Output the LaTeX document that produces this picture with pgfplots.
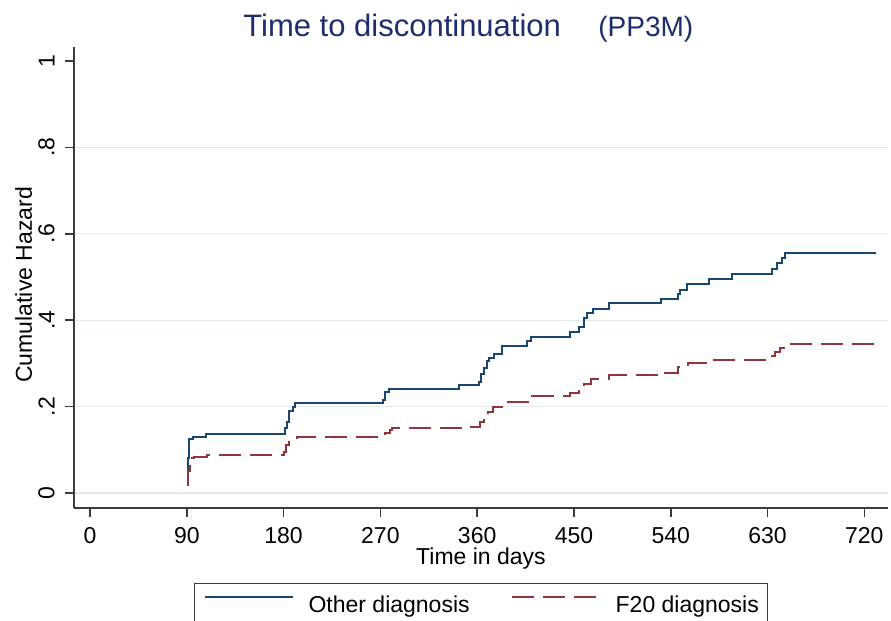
\documentclass[border=0pt]{standalone}
\usepackage{fontspec}
\setmainfont{Liberation Sans}
\usepackage{pgfplots}
\pgfplotsset{compat=1.18}
\definecolor{stblue}{RGB}{26,71,111}
\definecolor{stred}{RGB}{144,53,59}
\definecolor{ttlnavy}{RGB}{30,45,110}
\definecolor{gridc}{RGB}{226,236,238}
\definecolor{spine}{RGB}{60,60,60}

\pgfplotstableread{
day haz
91 0.026
91.5 0.080
92 0.125
96 0.130
108 0.137
181 0.150
183 0.165
185 0.190
189 0.200
191 0.208
272 0.215
274 0.234
278 0.240
343 0.249
362 0.258
364 0.275
366 0.290
369 0.305
371 0.312
376 0.322
383 0.341
406 0.352
410 0.362
446 0.373
455 0.385
459 0.404
462 0.417
468 0.427
483 0.439
531 0.448
547 0.461
549 0.471
555 0.484
576 0.496
597 0.508
634 0.518
639 0.532
643 0.543
646 0.556
731 0.556
}\otherdiag

\pgfplotstableread{
day haz
90 0.019
91 0.050
92.5 0.080
97 0.084
108.5 0.088
180 0.095
182 0.110
185 0.118
189 0.123
192 0.129
271 0.133
274 0.140
279 0.146
281 0.150
349 0.153
363 0.165
366 0.180
370 0.188
375 0.200
383 0.211
407 0.219
411 0.225
446 0.231
455 0.238
459 0.252
466 0.265
483 0.272
531 0.277
547 0.292
556 0.300
576 0.308
632 0.317
637 0.327
642 0.335
649 0.344
731 0.344
}\ftwenty

\begin{document}
\begin{tikzpicture}
\begin{axis}[name=ax, scale only axis, width=407pt, height=230.5pt,
  xmin=-14.9, xmax=742, ymin=-0.0347, ymax=1.0324,
  axis x line*=bottom, axis y line*=left,
  axis line style={-, spine, line width=0.75pt},
  xtick={0,90,...,720},
  ytick={0,0.2,0.4,0.6,0.8}, yticklabels={0,.2,.4,.6,.8},
  extra y ticks={1}, extra y tick labels={1}, extra y tick style={grid=none},
  ymajorgrids, major grid style={gridc, line width=0.6pt},
  tick align=outside, major tick length=4.5pt,
  tick style={spine, line width=0.75pt},
  /pgf/number format/assume math mode=true,
  ticklabel style={font=\fontsize{11.5}{13}\selectfont},
  xticklabel style={anchor=north, inner ysep=5pt},
  yticklabel style={rotate=90, anchor=south, inner ysep=5pt},
  xlabel={Time in days},
  xlabel style={at={(axis description cs:0.5,-0.1236)}, anchor=base, font=\fontsize{11.5}{13}\selectfont, inner sep=0pt},
  ylabel={Cumulative Hazard},
  ylabel style={at={(axis description cs:-0.0516,0.484)}, anchor=base, rotate=0, font=\fontsize{11.5}{13}\selectfont, inner sep=0pt},
  legend columns=2, legend cell align=left,
  legend style={at={(axis description cs:0.1474,-0.1627)}, anchor=north west,
    draw=spine, line width=0.6pt, inner xsep=4.5pt, inner ysep=6pt,
    font=\fontsize{11.5}{13}\selectfont, nodes={inner sep=0pt},
    /tikz/every odd column/.append style={column sep=7.5pt},
    /tikz/every even column/.append style={column sep=20.5pt}},
  legend image code/.code={\draw[#1] (0pt,4.5pt) -- (44pt,4.5pt);},
  clip=false,
]
\addplot[const plot, stblue, line width=1pt] table[x=day, y=haz] {\otherdiag};
\addlegendentry{Other diagnosis}
\addplot[const plot, stred, line width=1pt, dash pattern=on 11pt off 4.5pt] table[x=day, y=haz] {\ftwenty};
\addlegendentry{F20 diagnosis\hspace{5.5pt}}
\node[anchor=base west, inner sep=0pt, text=ttlnavy, font=\fontsize{15.5}{18}\selectfont] at (axis description cs:0.2076,1.0224) {Time to discontinuation};
\node[anchor=base west, inner sep=0pt, text=ttlnavy, font=\fontsize{14}{16}\selectfont] at (axis description cs:0.6437,1.0224) {(PP3M)};
\end{axis}
\pgfresetboundingbox
\path[use as bounding box] ([shift={(-37pt,-56.5pt)}]ax.south west) rectangle ([shift={(1.5pt,23.5pt)}]ax.north east);
\end{tikzpicture}
\end{document}
